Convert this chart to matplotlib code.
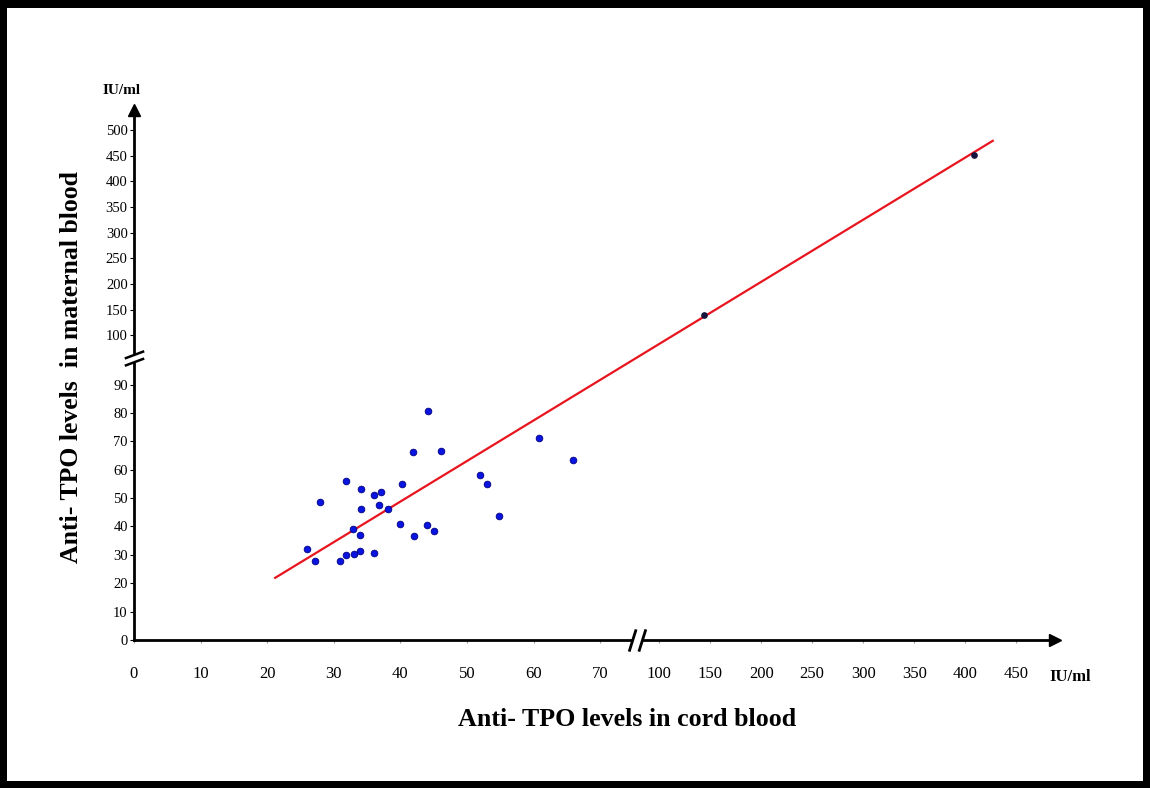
import numpy as np
import matplotlib
matplotlib.use("Agg")
import matplotlib.pyplot as plt
from matplotlib.patches import Rectangle
from matplotlib.path import Path

# ---- data ----
cord_low = [44.2, 60.8, 41.9, 46.1, 66.0, 31.9, 40.2, 52.0, 53.0, 34.1,
            36.0, 37.1, 28.0, 36.8, 34.1, 38.1, 54.8, 40.0, 32.9, 44.0,
            45.0, 33.9, 42.0, 26.0, 27.2, 31.0, 31.9, 33.0, 33.9, 36.0]
maternal_low = [80.6, 71.1, 66.4, 66.7, 63.4, 55.9, 54.8, 58.0, 55.0, 53.2,
                51.2, 52.2, 48.5, 47.5, 46.1, 46.1, 43.7, 40.8, 39.1, 40.5,
                38.4, 37.1, 36.8, 32.2, 27.8, 27.8, 29.9, 30.3, 31.4, 30.5]
cord_high = [144, 409]
maternal_high = [140, 452]
fit_x = [21.2, 427]
fit_y = [21.9, 479]

x_ticks = [0, 10, 20, 30, 40, 50, 60, 70, 100, 150, 200, 250, 300, 350, 400, 450]
y_ticks = [0, 10, 20, 30, 40, 50, 60, 70, 80, 90, 100, 150, 200, 250, 300, 350, 400, 450, 500]

# ---- broken (piecewise linear) scales ----
XB = [-1e4, 0, 70, 100, 1e4]
XP = [-1e4 * 6.66, 0, 466, 525, 525 + 9900 * 1.02]
YB = [-1e4, 0, 90, 100, 1e4]
YP = [-1e4 * 2.833, 0, 255, 304, 304 + 9900 * 0.5125]

def xf(v):
    return np.interp(v, XB, XP)

def xi(v):
    return np.interp(v, XP, XB)

def yf(v):
    return np.interp(v, YB, YP)

def yi(v):
    return np.interp(v, YP, YB)

W, H = 1150, 788
fig = plt.figure(figsize=(W / 100, H / 100), dpi=100)
fig.patch.set_facecolor("black")
fig.patches.append(Rectangle((7 / W, 1 - 781 / H), (1143 - 7) / W, (781 - 8) / H,
                             transform=fig.transFigure, facecolor="white",
                             edgecolor="none", zorder=-10))

ax = fig.add_axes([134 / W, 1 - 640 / H, (1055 - 134) / W, (640 - 110) / H])
ax.set_zorder(5)
ax.patch.set_visible(False)
ax.set_xscale("function", functions=(xf, xi))
ax.set_yscale("function", functions=(yf, yi))
ax.set_xlim(0, 488)
ax.set_ylim(0, 539)

for s in ["top", "right"]:
    ax.spines[s].set_visible(False)
for s in ["left", "bottom"]:
    ax.spines[s].set_linewidth(2.0)
    ax.spines[s].set_color("black")

ax.set_xticks(x_ticks)
ax.set_xticklabels([str(t) for t in x_ticks])
ax.set_yticks(y_ticks)
ax.set_yticklabels([str(t) for t in y_ticks])
ax.minorticks_off()
serif = "Liberation Serif"
ax.tick_params(axis="x", length=2, width=0.8, color="#999999", pad=17,
               labelsize=12)
ax.tick_params(axis="y", length=3, width=0.8, color="black", pad=1.5,
               labelsize=10.5)
for lab in ax.get_xticklabels() + ax.get_yticklabels():
    lab.set_fontfamily(serif)

# arrow heads
ax.plot(1, 0, marker=">", color="black", markersize=9, transform=ax.transAxes,
        clip_on=False, zorder=5)
ax.plot(0, 1, marker="^", color="black", markersize=9, transform=ax.transAxes,
        clip_on=False, zorder=5)

# break marks
slash_x = Path([(-3, -4), (-0.5, 4), (0.5, -4), (3, 4)],
               [Path.MOVETO, Path.LINETO, Path.MOVETO, Path.LINETO])
ax.plot(88.5, 0, marker="s", markersize=7, color="white", markeredgecolor="none",
        clip_on=False, zorder=6)
ax.plot(88.5, 0, marker=slash_x, markersize=16, color="black", markeredgewidth=2,
        linestyle="none", clip_on=False, zorder=7)
slash_y = Path([(-4, -3), (4, 0), (-4, 0), (4, 3)],
               [Path.MOVETO, Path.LINETO, Path.MOVETO, Path.LINETO])
ax.plot(0, 95.5, marker="s", markersize=6, color="white", markeredgecolor="none",
        clip_on=False, zorder=6)
ax.plot(0, 95.5, marker=slash_y, markersize=14, color="black", markeredgewidth=1.8,
        linestyle="none", clip_on=False, zorder=7)

# regression line and points
ax.plot(fit_x, fit_y, color="#e8141e", linewidth=1.6, zorder=3, clip_on=False)
ax.plot(cord_low, maternal_low, linestyle="none", marker="o", markersize=4.8,
        color="#0a14e0", markeredgecolor="#000080", markeredgewidth=0.6, zorder=4)
ax.plot(cord_high, maternal_high, linestyle="none", marker="o", markersize=3.8,
        color="#14143c", zorder=4)

# unit labels and axis titles
fig.text(122 / W, 1 - 90 / H, "IU/ml", ha="center", va="center",
         fontfamily=serif, fontweight="bold", fontsize=11)
fig.text(1070 / W, 1 - 677 / H, "IU/ml", ha="center", va="center",
         fontfamily=serif, fontweight="bold", fontsize=12)
fig.text(627 / W, 1 - 720 / H, "Anti- TPO levels in cord blood", ha="center",
         va="center", fontfamily=serif, fontweight="bold", fontsize=18.7)
fig.text(72 / W, 1 - 367 / H, "Anti- TPO levels  in maternal blood", ha="center",
         va="center", rotation=90, fontfamily=serif, fontweight="bold", fontsize=18.5)

fig.savefig("out.png", dpi=100, facecolor=fig.get_facecolor())
